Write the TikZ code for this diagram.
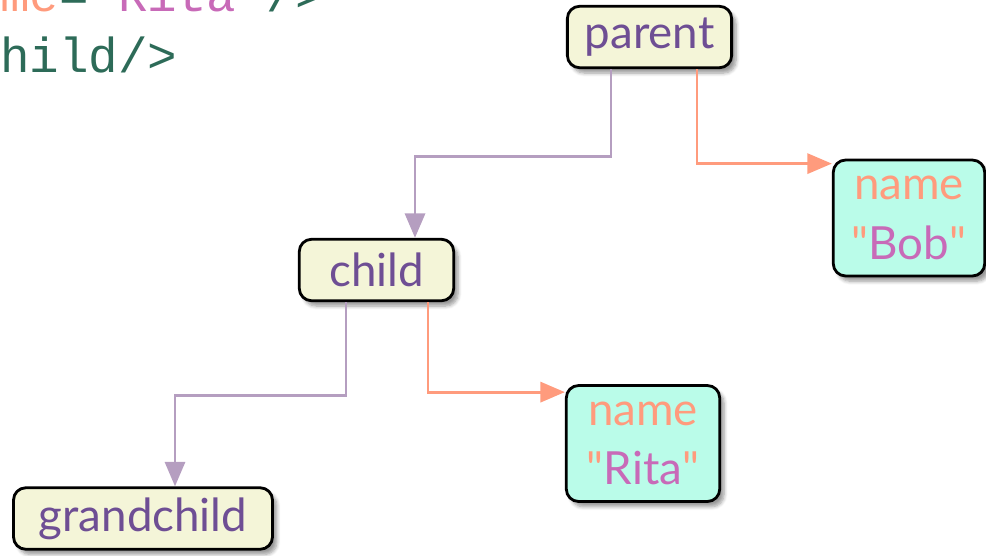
\documentclass[tikz,border=0pt]{standalone}
\usepackage{fontspec}
\setmainfont{Lato}[Ligatures=TeXOff]
\setmonofont{Liberation Mono}
\usetikzlibrary{arrows.meta,calc,shadows.blur}
\definecolor{cream}{HTML}{F4F5D8}
\definecolor{mint}{HTML}{BAFCE9}
\definecolor{elemtext}{HTML}{6E4E94}
\definecolor{attrname}{HTML}{FF9B7D}
\definecolor{attrval}{HTML}{C86AB8}
\definecolor{treeline}{HTML}{B59EC0}
\definecolor{codegreen}{HTML}{2D6B58}
\begin{document}
\begin{tikzpicture}[x=0.02cm,y=-0.02cm,
  box/.style={draw=black,line width=1.6pt,rounded corners=7pt,inner sep=0pt,
    blur shadow={shadow xshift=2.5pt,shadow yshift=-3pt,shadow blur steps=6}},
  elem/.style={box,fill=cream,text=elemtext,minimum height=35pt,minimum width=#1,
    font=\fontsize{26}{30}\selectfont},
  attr/.style={box,fill=mint,text=attrname,align=center,minimum width=#1,minimum height=66pt,
    font=\fontsize{26}{34}\selectfont},
  code/.style={anchor=base west,inner sep=0pt,font=\ttfamily\fontsize{28}{30}\selectfont},
  tree/.style={draw=treeline,line width=1.6pt,-{Triangle[length=14pt,width=11.5pt]}},
  link/.style={draw=attrname,line width=1.6pt,-{Triangle[length=14pt,width=11.5pt]}}]
\useasboundingbox (0,0) rectangle (986,555);
% bits of the xml source
\node[code] (srca) at (0,11) {\color{attrname}me\color{codegreen}=\color{attrval}"Rita"\color{codegreen}/>};
\node[code,text=codegreen] (srcb) at (0,72) {hild/>};
% elements
\node[elem=93.5pt] (parent) at (649.5,37) {parent};
\node[elem=87.9pt] (child) at (376.5,270) {child};
\node[elem=147.4pt] (grandchild) at (143,518.5) {grandchild};
% attributes
\node[attr=86.2pt] (bob) at (909,218) {name\\"{\color{attrval}Bob}"};
\node[attr=87.3pt] (rita) at (643,443.5) {name\\"{\color{attrval}Rita}"};
% connectors
\draw[tree] ($(parent.south)+(-38.5,0)$) -- ++(0,87) -| ($(child.north)+(38.5,0)$);
\draw[link] ($(parent.south)+(47.5,0)$) |- ($(bob.north west)+(0,5)$);
\draw[tree] ($(child.south)+(-30.5,0)$) -- ++(0,93) -| ($(grandchild.north)+(32,0)$);
\draw[link] ($(child.south)+(51.5,0)$) |- ($(rita.north west)+(0,8)$);
\end{tikzpicture}
\end{document}
